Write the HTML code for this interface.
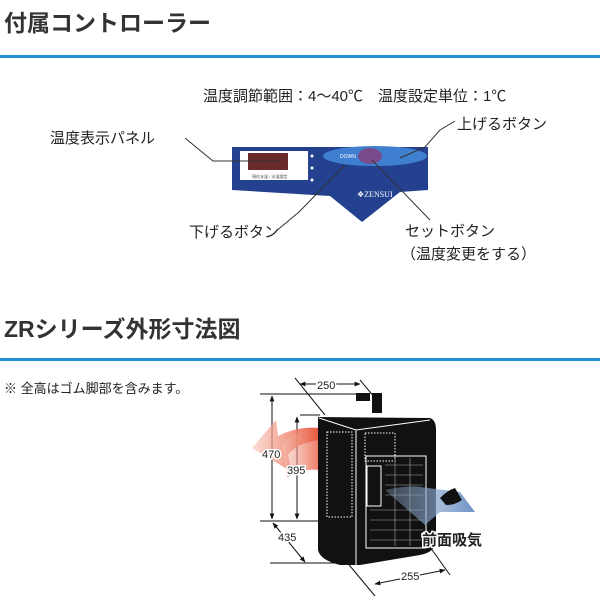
<!DOCTYPE html>
<html><head><meta charset="utf-8"><style>
body{margin:0;width:600px;height:600px;background:#fff;overflow:hidden;font-family:"Liberation Sans","Noto Sans CJK JP",sans-serif}
</style></head><body>
<svg width="600" height="600" viewBox="0 0 600 600" xmlns="http://www.w3.org/2000/svg" font-family="Liberation Sans, Noto Sans CJK JP, sans-serif">
<defs>
<linearGradient id="red" x1="1" y1="0" x2="0" y2="0"><stop offset="0" stop-color="#e8553a"/><stop offset="1" stop-color="#f6c3b4" stop-opacity="0.6"/></linearGradient>
<linearGradient id="blu" x1="0" y1="0" x2="1" y2="0"><stop offset="0" stop-color="#9fb8d8" stop-opacity="0.3"/><stop offset="1" stop-color="#6e93c6"/></linearGradient>
<marker id="ah" viewBox="0 0 10 10" refX="9" refY="5" markerWidth="6" markerHeight="6" orient="auto-start-reverse"><path d="M0 1 L10 5 L0 9 Z" fill="#111"/></marker>
</defs>
<text x="4" y="31" font-size="23" font-weight="bold" fill="#333">付属コントローラー</text>
<rect x="0" y="55" width="600" height="3" fill="#1e8fd0"/>
<text x="4" y="337" font-size="23" font-weight="bold" fill="#333">ZRシリーズ外形寸法図</text>
<rect x="0" y="358" width="600" height="3" fill="#1e8fd0"/>

<g font-size="15" fill="#222">
<text x="203" y="101">温度調節範囲：4〜40℃　温度設定単位：1℃</text>
<text x="50" y="143">温度表示パネル</text>
<text x="457" y="129">上げるボタン</text>
<text x="189" y="237">下げるボタン</text>
<text x="405" y="236">セットボタン</text>
<text x="401" y="259">（温度変更をする）</text>
</g>
<!-- panel -->
<path d="M232 147 L428 147 L428 190 L400 192 L362 222 L330 196 L232 190 Z" fill="#23418f"/>
<rect x="240" y="151" width="68" height="29" fill="#fff"/>
<rect x="248" y="153" width="40" height="17" fill="#6b2a2a"/>
<text x="252" y="178" font-size="4" fill="#444">現在水温 / 水温設定</text>
<circle cx="312" cy="156" r="1.5" fill="#fff"/><circle cx="312" cy="168" r="1.5" fill="#fff"/><circle cx="312" cy="180" r="1.5" fill="#fff"/>
<ellipse cx="375" cy="156" rx="52" ry="10" fill="#3f7fd0"/>
<ellipse cx="370" cy="156" rx="12" ry="8" fill="#7a4a8a"/>
<text x="340" y="158" font-size="5" fill="#fff">DOWN</text>
<text x="357" y="197" font-size="8" fill="#fff" font-family="Liberation Serif, serif">❖ZENSUI</text>
<g stroke="#333" stroke-width="1" fill="none">
<polyline points="185,138 213,161 280,161"/>
<polyline points="455,121 440,130 425,147 400,158"/>
<polyline points="275,232 299,212 345,165"/>
<polyline points="430,220 372,160"/>
</g>

<text x="4" y="393" font-size="13" fill="#222">※ 全高はゴム脚部を含みます。</text>

<!-- dimensions -->
<g stroke="#111" stroke-width="1" fill="none">
<line x1="260" y1="394" x2="370" y2="394"/>
<line x1="260" y1="521" x2="330" y2="521"/>
<line x1="300" y1="415" x2="320" y2="415"/>
<line x1="272" y1="396" x2="272" y2="519" marker-start="url(#ah)" marker-end="url(#ah)"/>
<line x1="297" y1="417" x2="297" y2="519" marker-start="url(#ah)" marker-end="url(#ah)"/>
<line x1="295" y1="378" x2="325" y2="415"/>
<line x1="360" y1="380" x2="375" y2="398"/>
<line x1="270" y1="563" x2="360" y2="563"/>
<line x1="273" y1="523" x2="305" y2="562" marker-start="url(#ah)" marker-end="url(#ah)"/>
<line x1="345" y1="560" x2="375" y2="596"/>
<line x1="425" y1="540" x2="450" y2="575"/>
<line x1="375" y1="584" x2="445" y2="570" marker-start="url(#ah)" marker-end="url(#ah)"/>
<line x1="300" y1="384" x2="360" y2="384" marker-start="url(#ah)" marker-end="url(#ah)"/>
</g>
<text x="317" y="389" font-size="11" fill="#222" stroke="#fff" stroke-width="3" paint-order="stroke">250</text>
<!-- red arrow -->
<path d="M320 440 Q296 443 288 455 L292 472 L252 448 L276 420 L278 436 Q298 426 320 428 Z" fill="url(#red)"/>
<path d="M320 428 Q294 430 282 445 L287 478 Q302 468 320 470 Z" fill="url(#red)" opacity="0.8"/>
<!-- body -->
<rect x="356" y="393" width="14" height="8" fill="#111"/>
<rect x="372" y="393" width="10" height="20" fill="#111"/>
<path d="M318 417 L430 418 Q436 420 436 430 L436 540 Q436 552 420 555 L360 565 L340 565 Q320 560 318 550 Z" fill="#111"/>
<g stroke="#fff" stroke-width="1" fill="none">
<polyline points="319,418 356,430 430,420"/>
<line x1="356" y1="430" x2="356" y2="565"/>
<rect x="366" y="456" width="60" height="92"/>
<rect x="327" y="432" width="25" height="85" stroke-dasharray="1.5,1.5"/>
<rect x="365" y="433" width="30" height="28" stroke-dasharray="1.5,1.5"/>
<rect x="367" y="466" width="14" height="40"/>
</g>
<g stroke="#aaa" stroke-width="0.6">
<line x1="385" y1="465" x2="423" y2="465"/><line x1="385" y1="475" x2="423" y2="475"/><line x1="385" y1="485" x2="423" y2="485"/><line x1="385" y1="495" x2="423" y2="495"/><line x1="370" y1="510" x2="423" y2="510"/><line x1="370" y1="520" x2="423" y2="520"/><line x1="370" y1="530" x2="423" y2="530"/><line x1="370" y1="540" x2="423" y2="540"/>
<line x1="395" y1="458" x2="395" y2="546"/><line x1="410" y1="458" x2="410" y2="546"/>
</g>
<path d="M385 490 Q410 485 420 487 L460 492 L475 512 L440 512 L425 525 Z" fill="url(#blu)"/>
<path d="M440 498 Q448 490 455 488 L462 500 Q455 505 446 505 Z" fill="#111"/>
<text x="422" y="545" font-size="15" font-weight="bold" fill="#222" stroke="#fff" stroke-width="3" paint-order="stroke">前面吸気</text>
<g font-size="11" fill="#222" stroke="#fff" stroke-width="3" paint-order="stroke">
<text x="262" y="458">470</text>
<text x="287" y="474">395</text>
<text x="278" y="541">435</text>
<text x="401" y="580">255</text>
</g>
</svg>
</body></html>
